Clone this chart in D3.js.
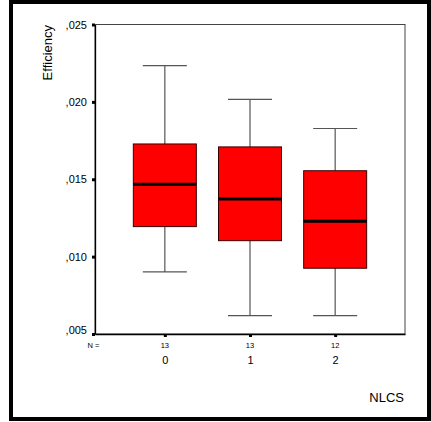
<!DOCTYPE html>
<html>
<head>
<meta charset="utf-8">
<script src="https://cdn.jsdelivr.net/npm/d3@7"></script>
<style>
  body { margin: 0; background: #fff; }
  text { font-family: "Liberation Sans", Arial, sans-serif; }
</style>
</head>
<body>
<div id="chart"></div>
<script>
const groups = ["0", "1", "2"];
const counts = [13, 13, 12];
const whiskerLow = [0.00901, 0.00619, 0.00619];
const q1 = [0.01194, 0.01103, 0.00925];
const median = [0.01467, 0.01373, 0.01229];
const q3 = [0.01728, 0.01709, 0.01555];
const whiskerHigh = [0.02234, 0.02016, 0.01828];
const yTicks = [0.005, 0.010, 0.015, 0.020, 0.025];

const data = groups.map((g, i) => ({
    group: g, n: counts[i], low: whiskerLow[i], q1: q1[i],
    med: median[i], q3: q3[i], high: whiskerHigh[i]
}));

const svgWidth = 431, svgHeight = 422;
const plot = { left: 95, right: 405, top: 24.5, bottom: 334 };

const svg = d3.select("#chart").append("svg")
    .attr("width", svgWidth)
    .attr("height", svgHeight);

// outer frame
svg.append("rect")
    .attr("x", 11).attr("y", 2)
    .attr("width", 418).attr("height", 417)
    .attr("fill", "#fff")
    .attr("stroke", "#000")
    .attr("stroke-width", 4);

const x = d3.scalePoint()
    .domain(groups)
    .range([plot.left, plot.right])
    .padding(0.82);

const y = d3.scaleLinear()
    .domain([0.005, 0.025])
    .range([plot.bottom, plot.top]);

// plot frame (top/right gray)
svg.append("rect")
    .attr("x", plot.left).attr("y", plot.top)
    .attr("width", plot.right - plot.left)
    .attr("height", plot.bottom - plot.top)
    .attr("fill", "none")
    .attr("stroke", "#444")
    .attr("stroke-width", 1);

const fmt = v => d3.format(".3f")(v).replace("0.", ",");

// y axis
const yAxis = svg.append("g")
    .attr("transform", `translate(${plot.left},0)`)
    .call(d3.axisLeft(y).tickValues(yTicks).tickFormat(fmt).tickSize(0).tickPadding(8));
yAxis.select(".domain").attr("stroke", "#000").attr("stroke-width", 1.3);
yAxis.selectAll(".tick text")
    .attr("font-size", "11px")
    .attr("fill", "#000")
    .attr("dy", d => d === 0.005 ? "-0.05em" : "0.32em");
yAxis.selectAll(".tick").append("rect")
    .attr("x", -3).attr("y", -1.5)
    .attr("width", 3).attr("height", 3)
    .attr("fill", "#000");

// x axis
const xAxis = svg.append("g")
    .attr("transform", `translate(0,${plot.bottom})`)
    .call(d3.axisBottom(x).tickSize(0).tickPadding(22));
xAxis.select(".domain").attr("stroke", "#000").attr("stroke-width", 1.3);
xAxis.selectAll(".tick text")
    .attr("font-size", "11px")
    .attr("fill", "#000");
xAxis.selectAll(".tick").append("rect")
    .attr("x", -1.5).attr("y", 0)
    .attr("width", 3).attr("height", 3)
    .attr("fill", "#000");

// N row
svg.append("text")
    .attr("x", 93.5).attr("y", 347.5)
    .attr("text-anchor", "middle")
    .attr("font-size", "7.5px")
    .text("N =");
svg.selectAll(".ncount")
    .data(data)
    .enter().append("text")
    .attr("class", "ncount")
    .attr("x", d => x(d.group))
    .attr("y", 347.5)
    .attr("text-anchor", "middle")
    .attr("font-size", "7.5px")
    .text(d => d.n);

// boxes
const boxW = 63, capW = 44;
const box = svg.selectAll(".box")
    .data(data)
    .enter().append("g")
    .attr("class", "box");

box.append("line")
    .attr("x1", d => x(d.group)).attr("x2", d => x(d.group))
    .attr("y1", d => y(d.high)).attr("y2", d => y(d.low))
    .attr("stroke", "#555").attr("stroke-width", 1.2);
box.append("line")
    .attr("x1", d => x(d.group) - capW / 2).attr("x2", d => x(d.group) + capW / 2)
    .attr("y1", d => y(d.high)).attr("y2", d => y(d.high))
    .attr("stroke", "#555").attr("stroke-width", 1.2);
box.append("line")
    .attr("x1", d => x(d.group) - capW / 2).attr("x2", d => x(d.group) + capW / 2)
    .attr("y1", d => y(d.low)).attr("y2", d => y(d.low))
    .attr("stroke", "#555").attr("stroke-width", 1.2);
box.append("rect")
    .attr("x", d => x(d.group) - boxW / 2)
    .attr("y", d => y(d.q3))
    .attr("width", boxW)
    .attr("height", d => y(d.q1) - y(d.q3))
    .attr("fill", "#ff0000")
    .attr("stroke", "#3a0000")
    .attr("stroke-width", 1);
box.append("line")
    .attr("x1", d => x(d.group) - boxW / 2).attr("x2", d => x(d.group) + boxW / 2)
    .attr("y1", d => y(d.med)).attr("y2", d => y(d.med))
    .attr("stroke", "#000").attr("stroke-width", 3);

// axis titles
svg.append("text")
    .attr("transform", "translate(51.5,25) rotate(-90)")
    .attr("text-anchor", "end")
    .attr("font-size", "13px")
    .text("Efficiency");

svg.append("text")
    .attr("x", 404).attr("y", 402)
    .attr("text-anchor", "end")
    .attr("font-size", "13px")
    .text("NLCS");
</script>
</body>
</html>
